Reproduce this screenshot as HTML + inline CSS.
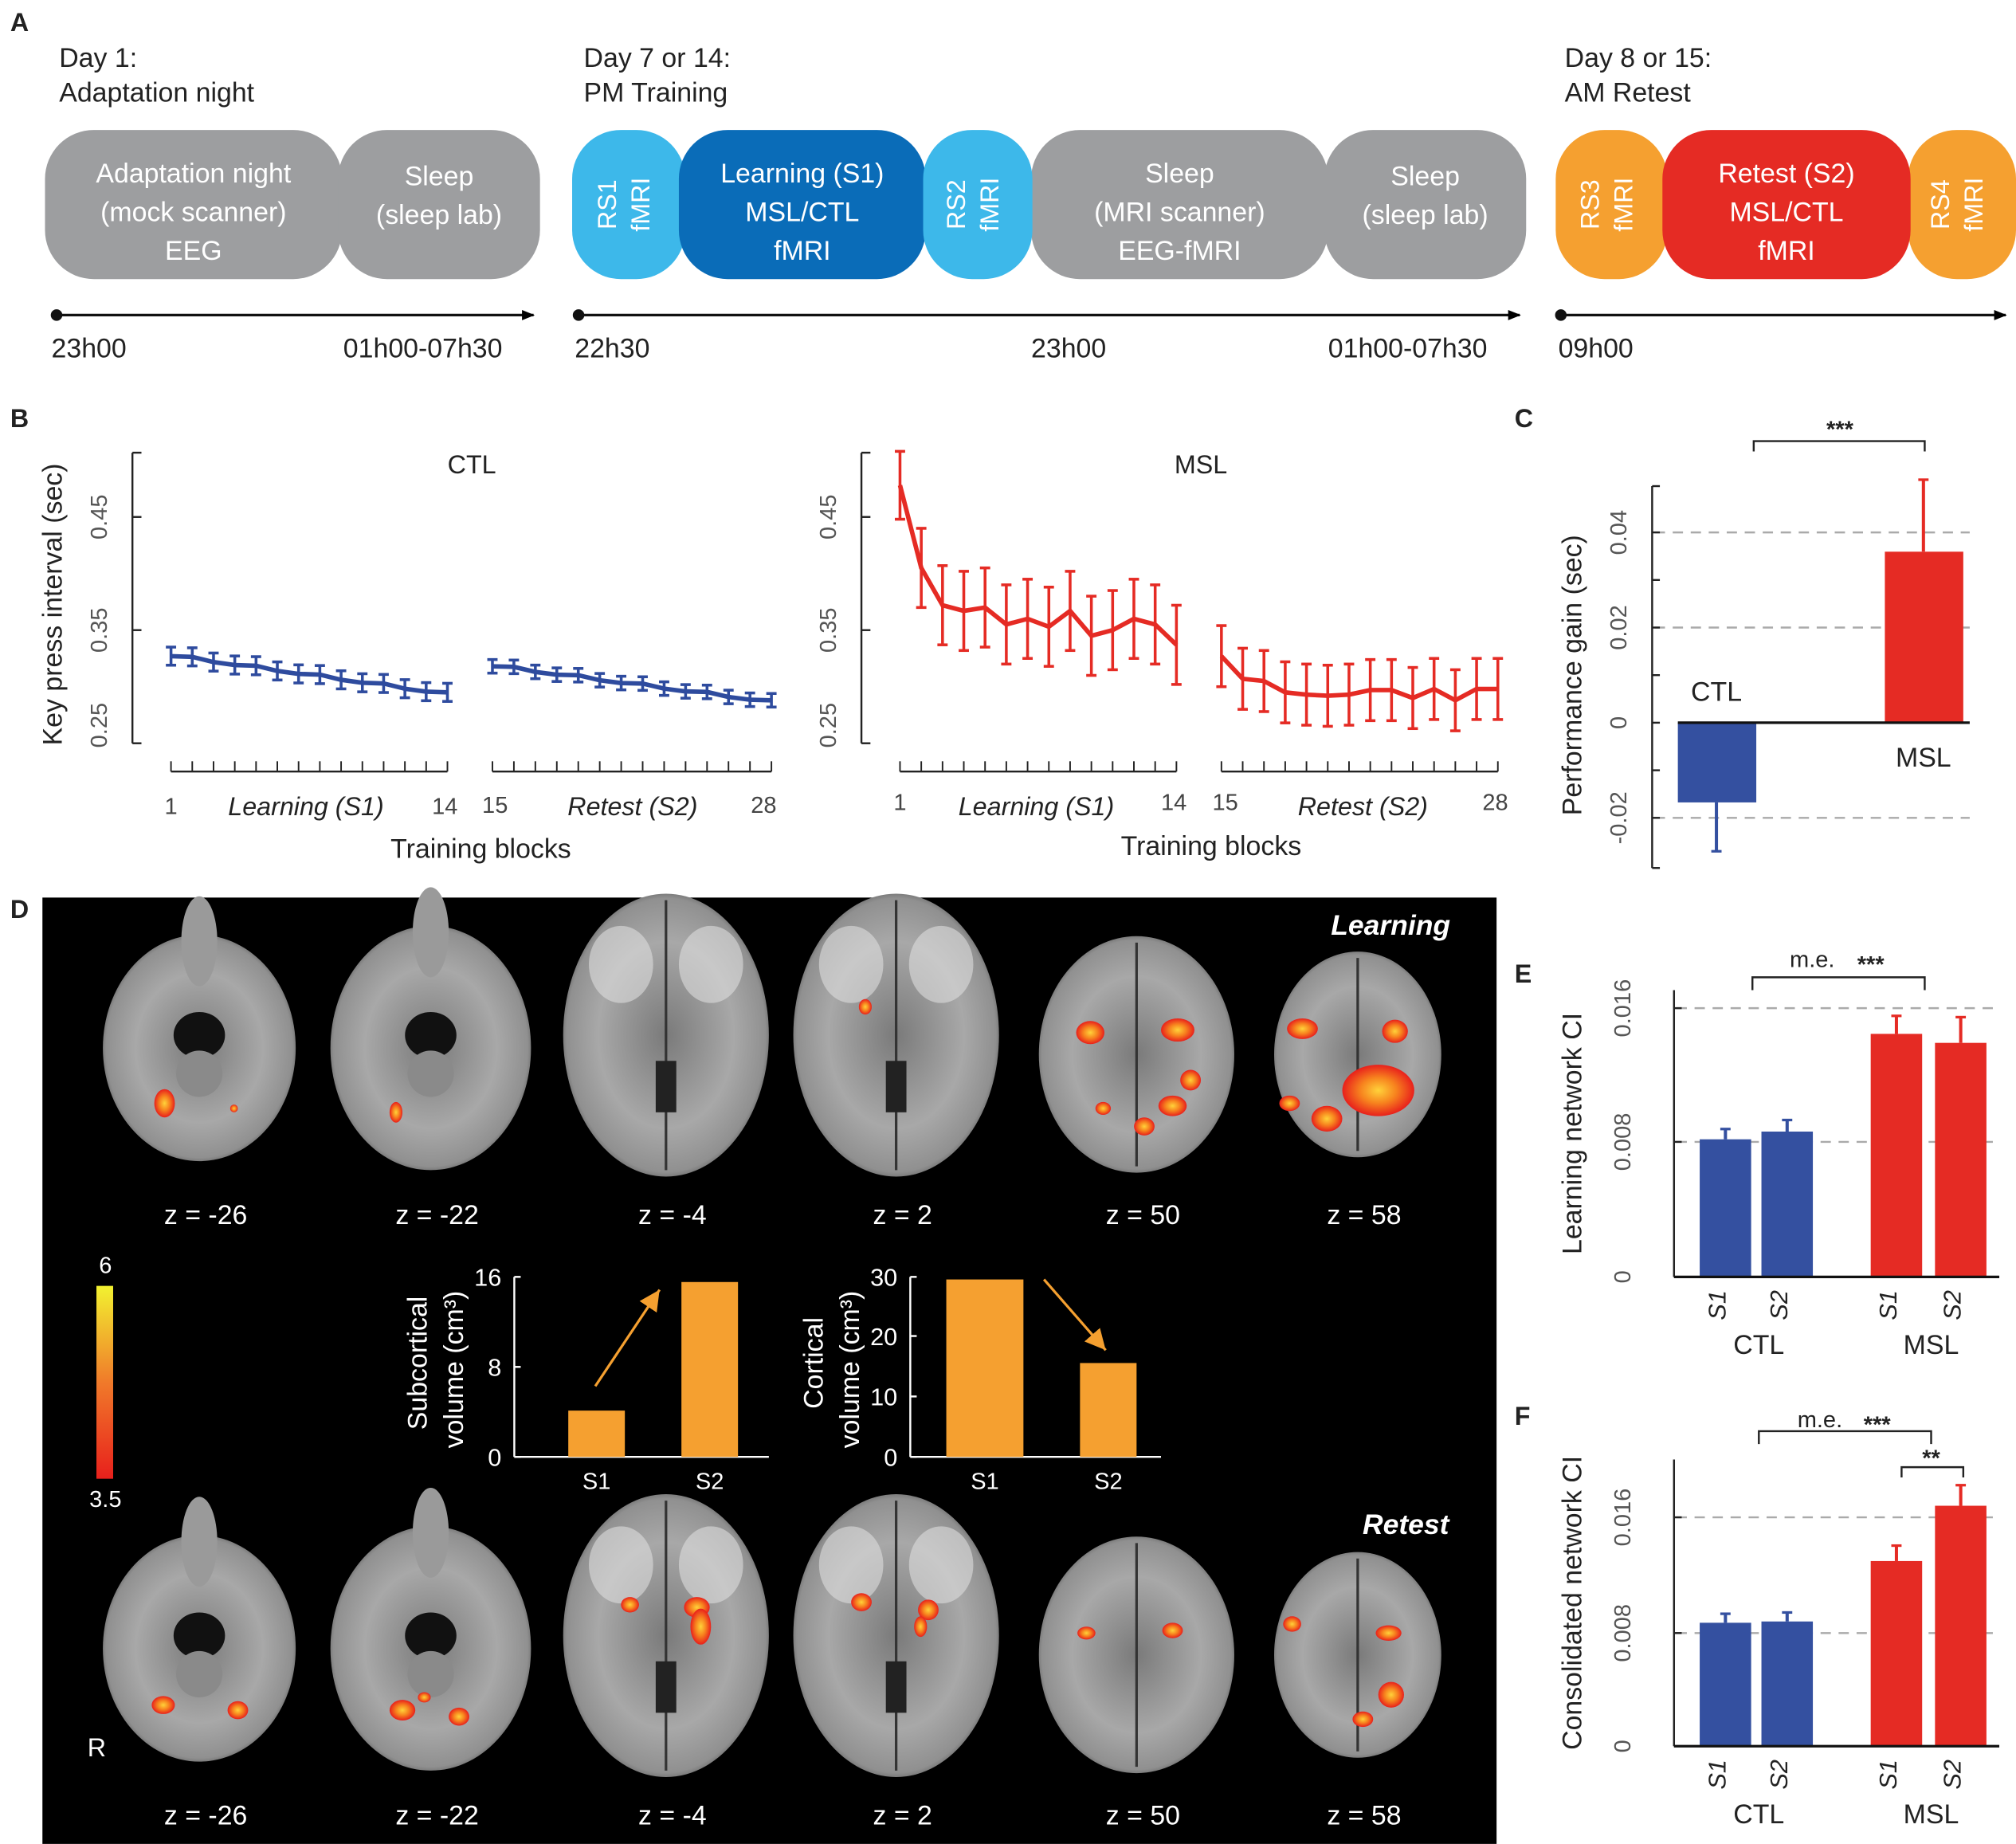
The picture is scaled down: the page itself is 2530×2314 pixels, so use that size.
<!DOCTYPE html>
<html><head><meta charset="utf-8"><style>
html,body{margin:0;padding:0;background:#fff}
svg{display:block}
text{font-family:"Liberation Sans",Arial,sans-serif}
</style></head><body>
<svg id="s" width="2530" height="2314" viewBox="0 0 1568 1434" xmlns="http://www.w3.org/2000/svg">
<defs>
<radialGradient id="br" cx="50%" cy="50%" r="55%">
<stop offset="0" stop-color="#7a7a7a"/><stop offset="0.6" stop-color="#a8a8a8"/><stop offset="0.88" stop-color="#909090"/><stop offset="1" stop-color="#404040"/>
</radialGradient>
<linearGradient id="cb" x1="0" y1="1" x2="0" y2="0"><stop offset="0" stop-color="#e8201c"/><stop offset="0.5" stop-color="#f07a2a"/><stop offset="1" stop-color="#f2f230"/></linearGradient>
<radialGradient id="act"><stop offset="0" stop-color="#ffd23a"/><stop offset="0.5" stop-color="#f7831e"/><stop offset="1" stop-color="#e8201c"/></radialGradient>
<marker id="ar" markerWidth="10" markerHeight="10" refX="9" refY="5" orient="auto" markerUnits="userSpaceOnUse"><path d="M0,1 L10,5 L0,9 z" fill="#000"/></marker>
<marker id="ao" markerWidth="20" markerHeight="20" refX="16" refY="8" orient="auto" markerUnits="userSpaceOnUse"><path d="M0,0 L16,8 L0,16 z" fill="#f5a030"/></marker>
</defs>
<g id="g"></g>
</svg>
<script>
const g=document.getElementById('g');let h='';
const T=(x,y,s,sz,o)=>{o=o||{};h+=`<text x="${x}" y="${y}" font-size="${sz}" fill="${o.f||'#222'}" text-anchor="${o.a||'start'}" ${o.b?'font-weight="bold"':''} ${o.i?'font-style="italic"':''} ${o.r?`transform="rotate(-90 ${x} ${y})"`:''}>${s}</text>`;};
const L=(x1,y1,x2,y2,c,w,ex)=>{h+=`<line x1="${x1}" y1="${y1}" x2="${x2}" y2="${y2}" stroke="${c||'#222'}" stroke-width="${w||1.5}" ${ex||''}/>`;};
const R=(x,y,w,hh,f,rx)=>{h+=`<rect x="${x}" y="${y}" width="${w}" height="${hh}" fill="${f}" rx="${rx||0}"/>`;};
T(8,24,'A',20,{b:1});
T(46,52,'Day 1:',21);T(46,79,'Adaptation night',21);
T(454,52,'Day 7 or 14:',21);T(454,79,'PM Training',21);
T(1217,52,'Day 8 or 15:',21);T(1217,79,'AM Retest',21);
const box=(x1,x2,c,lines,rot)=>{R(x1,101,x2-x1,116,c,38);
 if(rot){lines.forEach((l,i)=>T(x1+(x2-x1)/2-10+i*26,159,l,20,{f:'#fff',a:'middle',r:1}));}
 else{const n=lines.length;lines.forEach((l,i)=>T((x1+x2)/2,142+i*30-(n==2?-2:0),l,21,{f:'#fff',a:'middle'}));}};
box(35,266,'#9d9ea0',['Adaptation night','(mock scanner)','EEG']);
box(263,420,'#9d9ea0',['Sleep','(sleep lab)']);
box(445,533,'#3db8ea',['RS1','fMRI'],1);
box(802,1033,'#9d9ea0',['Sleep','(MRI scanner)','EEG-fMRI']);
box(1030,1187,'#9d9ea0',['Sleep','(sleep lab)']);
box(528,720,'#0a6cb8',['Learning (S1)','MSL/CTL','fMRI']);
box(718,803,'#3db8ea',['RS2','fMRI'],1);
box(1210,1297,'#f5a030',['RS3','fMRI'],1);
box(1484,1568,'#f5a030',['RS4','fMRI'],1);
box(1293,1486,'#e52b24',['Retest (S2)','MSL/CTL','fMRI']);
[[44,415],[450,1182],[1214,1560]].forEach(a=>{h+=`<circle cx="${a[0]}" cy="245" r="4.5" fill="#111"/>`;L(a[0],245,a[1],245,'#111',2,'marker-end="url(#ar)"');});
T(40,278,'23h00',21);T(267,278,'01h00-07h30',21);T(447,278,'22h30',21);T(802,278,'23h00',21);T(1033,278,'01h00-07h30',21);T(1212,278,'09h00',21);
T(8,332,'B',20,{b:1});T(1178,332,'C',20,{b:1});
T(48,470,'Key press interval (sec)',21,{a:'middle',r:1});
function lp(ax,x0,x1,y0,data,col,title,tx){
 L(ax,352,ax,578,'#222',1.5);
 [[0.25,578],[0.35,490],[0.45,402]].forEach(t=>{L(ax,t[1],ax+7,t[1]);});
 [[0.25,578],[0.35,490],[0.45,402]].forEach(t=>T(ax-20,t[1]-(t[0]==0.25?14:0),t[0].toFixed(2),18,{a:'middle',f:'#555',r:1}));
 L(ax,352,ax+7,352);
 T(tx,368,title,20,{a:'middle'});
 const Y=v=>578-(v-0.25)*880;
 [0,1].forEach(s=>{const xs=x0[s],xe=x1[s];L(xs,y0,xe,y0,'#222',1.5);
  for(let i=0;i<14;i++){const x=xs+i*(xe-xs)/13;L(x,y0,x,y0-8,'#222',1.2);}
  const d=data[s];let p='';d.forEach((v,i)=>{const x=xs+i*(xe-xs)/13;p+=(i?'L':'M')+x+','+Y(v[0]);const e=v[1]*880;L(x,Y(v[0])-e,x,Y(v[0])+e,col,2.2);L(x-4,Y(v[0])-e,x+4,Y(v[0])-e,col,2.2);L(x-4,Y(v[0])+e,x+4,Y(v[0])+e,col,2.2);});
  h+=`<path d="${p}" fill="none" stroke="${col}" stroke-width="3.5"/>`;});
}
const lin=(a,b,e)=>Array.from({length:14},(_,i)=>[a+(b-a)*i/13+(i%3==1?0.002:0),e]);
lp(103,[133,383],[348,600],600,[lin(0.327,0.293,0.008),lin(0.318,0.286,0.006)],'#2e4b9e','CTL',367);
const m1=[0.478,0.405,0.372,0.367,0.37,0.355,0.36,0.353,0.367,0.345,0.35,0.36,0.355,0.337].map((v,i)=>[v,i==0?0.03:0.035]);
const m2=[0.327,0.307,0.305,0.295,0.293,0.292,0.293,0.297,0.297,0.29,0.298,0.288,0.298,0.298].map(v=>[v,0.027]);
lp(670,[700,950],[915,1165],600,[m1,m2],'#e52b24','MSL',934);
T(133,633,'1',18,{a:'middle',f:'#444'});T(346,633,'14',18,{a:'middle',f:'#444'});T(238,634,'Learning (S1)',20,{a:'middle',i:1});
T(385,632,'15',18,{a:'middle',f:'#444'});T(594,632,'28',18,{a:'middle',f:'#444'});T(492,634,'Retest (S2)',20,{a:'middle',i:1});
T(374,667,'Training blocks',21,{a:'middle'});
T(700,630,'1',18,{a:'middle',f:'#444'});T(913,630,'14',18,{a:'middle',f:'#444'});T(806,634,'Learning (S1)',20,{a:'middle',i:1});
T(953,630,'15',18,{a:'middle',f:'#444'});T(1163,630,'28',18,{a:'middle',f:'#444'});T(1060,634,'Retest (S2)',20,{a:'middle',i:1});
T(942,665,'Training blocks',21,{a:'middle'});
[414,488,636].forEach(y=>L(1287,y,1532,y,'#aaa',1.5,'stroke-dasharray="8,6"'));
L(1285,378,1285,675);[378,414,451,488,525,562,599,636,675].forEach(y=>L(1285,y,1291,y));
[[414,'0.04'],[488,'0.02'],[562,'0'],[636,'-0.02']].forEach(t=>T(1265,t[0],t[1],18,{a:'middle',f:'#555',r:1}));
T(1230,525,'Performance gain (sec)',21,{a:'middle',r:1});
R(1305,562,61,62,'#3450a0');L(1335,624,1335,662,'#3450a0',2.5);L(1331,662,1339,662,'#3450a0',2);
R(1466,429,61,133,'#e52b24');L(1496,429,1496,373,'#e52b24',2.5);L(1492,373,1500,373,'#e52b24',2);
L(1305,562,1532,562,'#111',2);
T(1335,545,'CTL',21,{a:'middle'});T(1496,596,'MSL',21,{a:'middle'});
h+=`<path d="M1364,351 V343 H1497 V351" fill="none" stroke="#222" stroke-width="1.5"/>`;T(1431,340,'***',18,{a:'middle',b:1});
T(8,714,'D',20,{b:1});
R(33,698,1131,736,'#000');
T(1128,727,'Learning',22,{a:'end',f:'#fff',b:1,i:1});T(1127,1193,'Retest',22,{a:'end',f:'#fff',b:1,i:1});
const bx=[155,335,518,697,884,1056];const zs=['z = -26','z = -22','z = -4','z = 2','z = 50','z = 58'];
function brain(cx,cy,i){
 const rx=[75,78,80,80,76,65][i],ry=[88,95,110,110,92,80][i];
 h+=`<ellipse cx="${cx}" cy="${cy}" rx="${rx}" ry="${ry}" fill="url(#br)"/>`;
 if(i<2){h+=`<ellipse cx="${cx}" cy="${cy-ry+5}" rx="14" ry="35" fill="#9a9a9a"/><ellipse cx="${cx}" cy="${cy-10}" rx="20" ry="18" fill="#111"/><ellipse cx="${cx}" cy="${cy+20}" rx="18" ry="18" fill="#8a8a8a"/>`;}
 else{L(cx,cy-ry+5,cx,cy+ry-5,'#333',2);}
 if(i>=2&&i<4){h+=`<ellipse cx="${cx-35}" cy="${cy-55}" rx="25" ry="30" fill="#ddd" opacity=".6"/><ellipse cx="${cx+35}" cy="${cy-55}" rx="25" ry="30" fill="#ddd" opacity=".6"/><rect x="${cx-8}" y="${cy+20}" width="16" height="40" fill="#222"/>`;}
}
bx.forEach((x,i)=>{brain(x,[815,815,805,805,820,820][i],i);brain(x,[1282,1282,1272,1272,1287,1287][i],i);T(x+5,952,zs[i],21,{a:'middle',f:'#fff'});T(x+5,1419,zs[i],21,{a:'middle',f:'#fff'});});
const blob=(x,y,rx,ry)=>h+=`<ellipse cx="${x}" cy="${y}" rx="${rx}" ry="${ry}" fill="url(#act)"/>`;
blob(128,858,8,11);blob(182,862,3,3);blob(308,865,5,8);blob(673,783,5,6);
blob(848,803,11,9);blob(916,801,13,9);blob(926,840,8,8);blob(912,860,11,8);blob(890,876,8,7);blob(858,862,6,5);
blob(1013,800,12,8);blob(1085,802,10,9);blob(1072,848,28,20);blob(1032,870,12,10);blob(1003,858,8,6);
blob(127,1326,9,7);blob(185,1330,8,7);blob(313,1330,10,8);blob(357,1335,8,7);blob(330,1320,5,4);
blob(490,1248,7,6);blob(542,1250,10,8);blob(545,1265,8,14);blob(670,1246,8,7);blob(722,1252,8,8);blob(716,1265,5,8);
blob(845,1270,7,5);blob(912,1268,8,6);blob(1005,1263,7,6);blob(1080,1270,10,6);blob(1082,1318,10,10);blob(1060,1337,8,6);
T(68,1366,'R',20,{f:'#fff'});
R(75,1000,13,150,'url(#cb)');T(82,990,'6',18,{a:'middle',f:'#fff'});T(82,1172,'3.5',18,{a:'middle',f:'#fff'});
function inset(ax,x0,x1,ticks,bars,lab1,lab2,arrow){
 L(ax,993,ax,1133,'#fff',1.5);L(ax,1133,x1,1133,'#fff',1.5);
 ticks.forEach(t=>{L(ax,t[0],ax+5,t[0],'#fff');T(ax-10,t[0]+7,t[1],19,{a:'end',f:'#fff'});});
 bars.forEach(b=>{R(b[0],b[1],b[2],1133-b[1],'#f5a030');T(b[0]+b[2]/2,1158,b[3],18,{a:'middle',f:'#fff'});});
 T(ax-68,1060,lab1,21,{a:'middle',f:'#fff',r:1});T(ax-40,1065,lab2,21,{a:'middle',f:'#fff',r:1});
 L(arrow[0],arrow[1],arrow[2],arrow[3],'#f5a030',2,'marker-end="url(#ao)"');
}
inset(400,400,598,[[993,'16'],[1063,'8'],[1133,'0']],[[442,1097,44,'S1'],[530,997,44,'S2']],'Subcortical','volume (cm³)',[463,1078,513,1003]);
inset(708,708,903,[[993,'30'],[1039,'20'],[1086,'10'],[1133,'0']],[[736,995,60,'S1'],[840,1060,44,'S2']],'Cortical','volume (cm³)',[812,995,860,1050]);
function barp(lbl,ly,top,bot,g8,g16,ylab,vals,sig){
 T(1178,ly,lbl,20,{b:1});
 [g8,g16].forEach(y=>L(1304,y,1555,y,'#aaa',1.5,'stroke-dasharray="8,6"'));
 L(1302,top,1302,bot);
 [[bot,'0'],[g8,'0.008'],[g16,'0.016']].forEach(t=>{L(1302,t[0],1308,t[0]);T(1268,t[0],t[1],18,{a:'middle',f:'#555',r:1});});
 T(1230,(top+bot)/2,ylab,21,{a:'middle',r:1});
 const xs=[1322,1370,1455,1505];
 vals.forEach((v,i)=>{const c=i<2?'#3450a0':'#e52b24';R(xs[i],v[0],40,bot-v[0],c);L(xs[i]+20,v[0],xs[i]+20,v[0]-v[1],c,2.5);L(xs[i]+16,v[0]-v[1],xs[i]+24,v[0]-v[1],c,2);
  T(xs[i]+20,bot+22,'S'+(i%2+1),19,{a:'middle',i:1,r:1});});
 L(1302,bot,1555,bot,'#111',2);
 T(1368,bot+60,'CTL',21,{a:'middle'});T(1502,bot+60,'MSL',21,{a:'middle'});
 sig();
}
barp('E',764,770,993,888,784,'Learning network CI',[[886,8],[880,9],[804,14],[811,20]],()=>{h+=`<path d="M1363,770 V760 H1497 V770" fill="none" stroke="#222" stroke-width="1.5"/>`;T(1392,752,'m.e.',18);T(1455,756,'***',18,{b:1,a:'middle'});});
barp('F',1108,1135,1358,1270,1180,'Consolidated network CI',[[1262,7],[1261,7],[1214,12],[1171,16]],()=>{h+=`<path d="M1368,1123 V1113 H1502 V1123" fill="none" stroke="#222" stroke-width="1.5"/><path d="M1479,1149 V1141 H1527 V1149" fill="none" stroke="#222" stroke-width="1.5"/>`;T(1398,1110,'m.e.',18);T(1460,1114,'***',18,{b:1,a:'middle'});T(1502,1140,'**',18,{b:1,a:'middle'});});
g.innerHTML=h;
</script>
</body></html>
